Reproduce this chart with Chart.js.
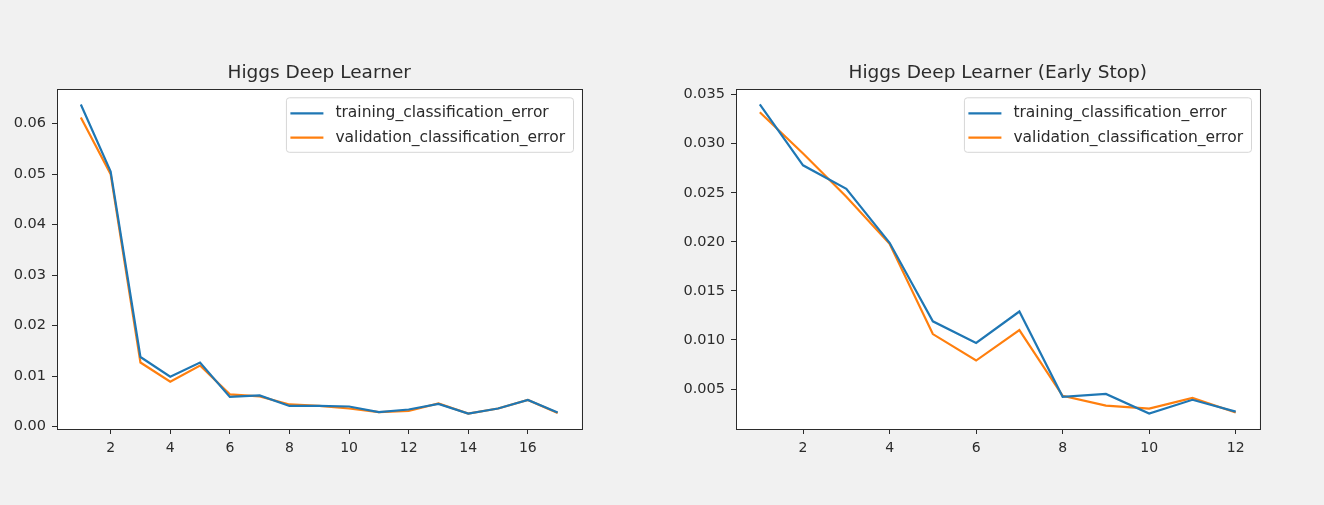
<!DOCTYPE html>
<html>
<head>
<meta charset="utf-8">
<script src="https://cdn.jsdelivr.net/npm/chart.js@4/dist/chart.umd.min.js"></script>
<style>
  html, body { margin: 0; padding: 0; background: #f1f1f1; }
  body { width: 1324px; height: 505px; position: relative; overflow: hidden; }
  canvas { position: absolute; top: 0; }
  #left { left: 0; }
  #right { left: 660px; }
</style>
</head>
<body>
<canvas id="left" width="600" height="505"></canvas>
<canvas id="right" width="620" height="505"></canvas>
<script>
// left plot: full run
const leftEpochs = [1, 2, 3, 4, 5, 6, 7, 8, 9, 10, 11, 12, 13, 14, 15, 16, 17];
const leftTrain = [0.0638, 0.0505, 0.0138, 0.0099, 0.0127, 0.0059, 0.0062, 0.0041, 0.0041, 0.0040, 0.0029, 0.0034, 0.0045, 0.0026, 0.0036, 0.0053, 0.0028];
const leftValid = [0.0612, 0.0500, 0.0127, 0.0089, 0.0121, 0.0064, 0.0060, 0.0044, 0.0041, 0.0036, 0.0029, 0.0031, 0.0046, 0.0026, 0.0036, 0.0053, 0.0027];
const leftXTicks = [2, 4, 6, 8, 10, 12, 14, 16];
const leftYTicks = [0.00, 0.01, 0.02, 0.03, 0.04, 0.05, 0.06];

// right plot: early stop
const rightEpochs = [1, 2, 3, 4, 5, 6, 7, 8, 9, 10, 11, 12];
const rightTrain = [0.0340, 0.0278, 0.0254, 0.0199, 0.0119, 0.0097, 0.0129, 0.0042, 0.0045, 0.0025, 0.0039, 0.0027];
const rightValid = [0.0332, 0.0290, 0.0246, 0.0198, 0.0106, 0.0079, 0.0110, 0.0043, 0.0033, 0.0030, 0.0041, 0.0026];
const rightXTicks = [2, 4, 6, 8, 10, 12];
const rightYTicks = [0.005, 0.010, 0.015, 0.020, 0.025, 0.030, 0.035];

const seriesNames = ['training_classification_error', 'validation_classification_error'];
const seriesColors = ['#1f77b4', '#ff7f0e'];

const FONT = '"DejaVu Sans", sans-serif';
const INK = '#2b2b2b';

// matplotlib style 5% margins
function padRange(values) {
    const lo = Math.min(...values);
    const hi = Math.max(...values);
    const m = (hi - lo) * 0.05;
    return [lo - m, hi + m];
}

// white axes face + full box spines
const axesBox = {
    id: 'axesBox',
    beforeDraw(chart) {
        const a = chart.chartArea;
        const ctx = chart.ctx;
        ctx.save();
        ctx.fillStyle = '#ffffff';
        ctx.fillRect(a.left, a.top, a.right - a.left, a.bottom - a.top);
        ctx.restore();
    },
    afterDatasetsDraw(chart) {
        const a = chart.chartArea;
        const ctx = chart.ctx;
        ctx.save();
        ctx.strokeStyle = INK;
        ctx.lineWidth = 1;
        ctx.strokeRect(Math.round(a.left) + 0.5, Math.round(a.top) + 0.5,
            Math.round(a.right - a.left), Math.round(a.bottom - a.top));
        ctx.restore();
    }
};

// legend drawn inside the axes, upper right
const insideLegend = {
    id: 'insideLegend',
    afterDraw(chart) {
        const a = chart.chartArea;
        const ctx = chart.ctx;
        const sets = chart.data.datasets;
        ctx.save();
        ctx.font = '15.5px ' + FONT;
        let tw = 0;
        sets.forEach(d => { tw = Math.max(tw, ctx.measureText(d.label).width); });
        const w = 4.5 + 33 + 12 + tw + 8;
        const h = 54.5;
        const x = a.right - 8.5 - w;
        const y = a.top + 8.3;
        ctx.beginPath();
        ctx.roundRect(x + 0.5, y + 0.5, w, h, 3);
        ctx.fillStyle = 'rgba(255,255,255,0.8)';
        ctx.fill();
        ctx.strokeStyle = '#d6d6d6';
        ctx.lineWidth = 1;
        ctx.stroke();
        sets.forEach((d, i) => {
            const cy = y + 16 + i * 24.4;
            ctx.beginPath();
            ctx.moveTo(x + 4.5, cy);
            ctx.lineTo(x + 37.5, cy);
            ctx.strokeStyle = d.borderColor;
            ctx.lineWidth = 2.2;
            ctx.stroke();
            ctx.fillStyle = INK;
            ctx.textBaseline = 'middle';
            ctx.textAlign = 'left';
            ctx.fillText(d.label, x + 49.5, cy);
        });
        ctx.restore();
    }
};

function makeChart(id, title, epochs, train, valid, xTicks, yTicks, decimals, yWidth, padRight) {
    const xr = padRange(epochs);
    const yr = padRange(train.concat(valid));
    const series = [train, valid];
    new Chart(document.getElementById(id), {
        type: 'line',
        data: {
            datasets: series.map((vals, i) => ({
                label: seriesNames[i],
                data: epochs.map((e, k) => ({ x: e, y: vals[k] })),
                borderColor: seriesColors[i],
                borderWidth: 2.2,
                pointRadius: 0,
                tension: 0,
                fill: false
            }))
        },
        options: {
            responsive: false,
            animation: false,
            devicePixelRatio: 1,
            layout: { padding: { left: 0, right: padRight, top: 0, bottom: 0 } },
            plugins: {
                legend: { display: false },
                tooltip: { enabled: false },
                title: {
                    display: true,
                    text: title,
                    fullSize: false,
                    color: INK,
                    font: { family: FONT, size: 18.5, weight: 'normal', lineHeight: 1.2 },
                    padding: { top: 62, bottom: 4.8 }
                }
            },
            scales: {
                x: {
                    type: 'linear',
                    min: xr[0],
                    max: xr[1],
                    afterBuildTicks: s => { s.ticks = xTicks.map(v => ({ value: v })); },
                    afterFit: s => { s.height = 76; },
                    grid: { drawOnChartArea: false, drawTicks: true, tickLength: 5, tickColor: INK },
                    border: { display: true, color: INK },
                    ticks: {
                        color: INK,
                        padding: 6,
                        maxRotation: 0,
                        font: { family: FONT, size: 14 },
                        callback: v => String(v)
                    }
                },
                y: {
                    type: 'linear',
                    min: yr[0],
                    max: yr[1],
                    afterBuildTicks: s => { s.ticks = yTicks.map(v => ({ value: v })); },
                    afterFit: s => { s.width = yWidth; },
                    grid: { drawOnChartArea: false, drawTicks: true, tickLength: 5, tickColor: INK },
                    border: { display: true, color: INK },
                    ticks: {
                        color: INK,
                        padding: 6,
                        font: { family: FONT, size: 14.5 },
                        callback: v => Number(v).toFixed(decimals)
                    }
                }
            }
        },
        plugins: [axesBox, insideLegend]
    });
}

makeChart('left', 'Higgs Deep Learner', leftEpochs, leftTrain, leftValid, leftXTicks, leftYTicks, 2, 57, 18.5);
makeChart('right', 'Higgs Deep Learner (Early Stop)', rightEpochs, rightTrain, rightValid, rightXTicks, rightYTicks, 3, 76, 20.5);
</script>
</body>
</html>
